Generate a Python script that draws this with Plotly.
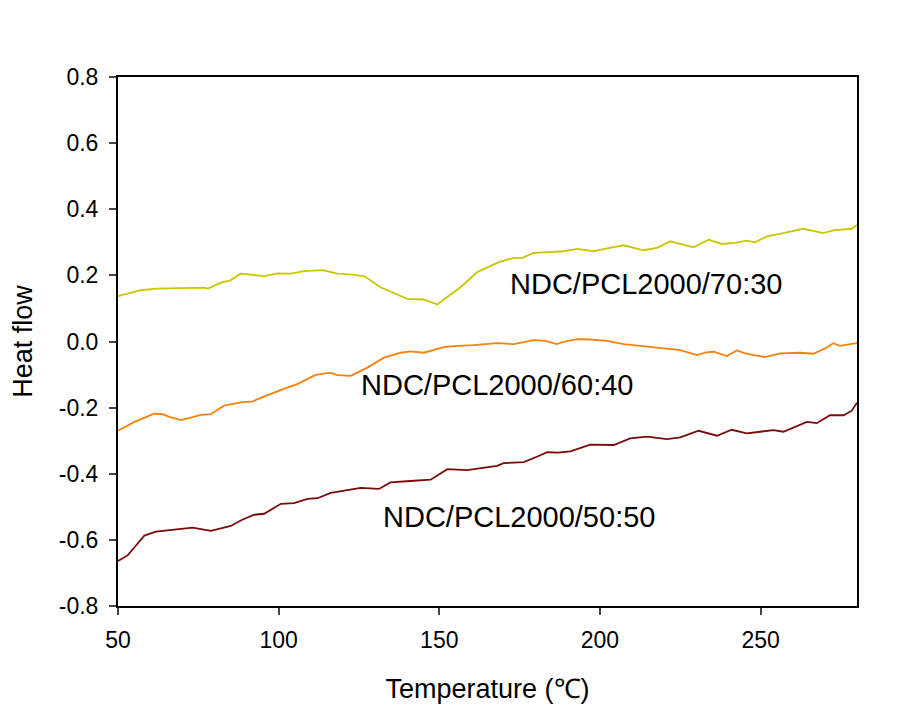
import plotly.graph_objects as go

# Series 70:30
x_7030 = [50, 53, 57.1, 62, 70, 76.8, 78, 82, 85, 88.2, 95.5, 99.6, 103.8, 107.9, 113.6, 118.3, 122, 126.6,
          131.7, 136, 140, 145.2, 149.4, 151.4, 156.6, 161.8, 165, 168.5, 173.2, 175.8, 179.4, 184, 188.7,
          192.9, 198, 203, 207.4, 213.6, 217.7, 221.9, 225.5, 229.1, 233.8, 237.9, 242, 245.7, 248.3,
          251.9, 257.1, 263.3, 266, 269.5, 272.6, 278.3, 280]
y_7030 = [0.137, 0.145, 0.155, 0.160, 0.162, 0.163, 0.160, 0.178, 0.185, 0.205, 0.198, 0.206, 0.205, 0.213,
          0.216, 0.205, 0.203, 0.198, 0.164, 0.145, 0.129, 0.127, 0.112, 0.127, 0.164, 0.210, 0.225, 0.240,
          0.253, 0.253, 0.268, 0.270, 0.273, 0.280, 0.273, 0.283, 0.291, 0.276, 0.283, 0.303, 0.293, 0.285,
          0.308, 0.295, 0.298, 0.305, 0.300, 0.318, 0.328, 0.341, 0.335, 0.328, 0.336, 0.341, 0.352]

# Series 60:40
x_6040 = [50, 55.1, 61.3, 63.9, 66, 69.6, 72, 75.8, 78.9, 83, 88.2, 91.9, 95, 98.6, 102, 105.8, 108.5,
          111.5, 116.2, 118.3, 122.4, 127.6, 132.8, 138, 141, 145.2, 151.4, 154.5, 160.7, 164, 168,
          173.2, 179.4, 183, 186.6, 189, 192.9, 197, 202.2, 207.4, 213.6, 219, 225, 230.2, 233, 235.4,
          239.5, 242.6, 245, 247.8, 251.4, 256.1, 262.3, 266.4, 270.6, 272.6, 274.7, 279.4, 280]
y_6040 = [-0.270, -0.243, -0.218, -0.220, -0.228, -0.238, -0.232, -0.222, -0.220, -0.194, -0.184, -0.181,
          -0.168, -0.154, -0.142, -0.129, -0.115, -0.101, -0.094, -0.102, -0.104, -0.079, -0.049, -0.034,
          -0.030, -0.034, -0.017, -0.014, -0.011, -0.008, -0.005, -0.008, 0.004, 0.002, -0.008, 0.000,
          0.007, 0.006, 0.002, -0.008, -0.014, -0.018, -0.026, -0.041, -0.033, -0.031, -0.044, -0.027,
          -0.035, -0.041, -0.047, -0.036, -0.034, -0.037, -0.018, -0.005, -0.013, -0.006, -0.005]

# Series 50:50
x_5050 = [50, 53, 55.6, 58.2, 61.8, 67.5, 73.2, 78.9, 85.1, 88.5, 92.4, 95.5, 100.7, 104.8, 109, 112.1,
          116.2, 120, 125.5, 131.2, 134.8, 141, 147.3, 152.5, 158.7, 163, 168, 170, 176.3, 180, 183.6,
          187, 190.8, 197, 204.3, 209.4, 214.6, 220.9, 225, 230.7, 236.4, 241, 245.7, 249.8, 254, 257.1,
          260.2, 264.4, 267.5, 271.6, 275.8, 278.3, 280]
y_5050 = [-0.664, -0.647, -0.617, -0.587, -0.575, -0.570, -0.563, -0.573, -0.558, -0.540, -0.524, -0.521,
          -0.491, -0.489, -0.476, -0.474, -0.458, -0.452, -0.443, -0.446, -0.426, -0.422, -0.418, -0.386,
          -0.389, -0.383, -0.376, -0.368, -0.365, -0.350, -0.335, -0.336, -0.332, -0.312, -0.313, -0.293,
          -0.288, -0.295, -0.290, -0.270, -0.285, -0.267, -0.278, -0.273, -0.268, -0.273, -0.260, -0.243,
          -0.247, -0.223, -0.223, -0.210, -0.185]

labels = ["NDC/PCL2000/70:30", "NDC/PCL2000/60:40", "NDC/PCL2000/50:50"]
label_x = [214.4, 168.1, 174.9]
label_y = [0.173, -0.132, -0.530]
colors = ["#C8C800", "#F5820F", "#7A0A0A"]

y_tickvals = [-0.8, -0.6, -0.4, -0.2, 0.0, 0.2, 0.4, 0.6, 0.8]
y_ticktext = ["-0.8", "-0.6", "-0.4", "-0.2", "0.0", "0.2", "0.4", "0.6", "0.8"]
x_tickvals = [50, 100, 150, 200, 250]
x_ticktext = ["50", "100", "150", "200", "250"]

FONT = "Arial, Liberation Sans, sans-serif"

fig = go.Figure()
for xs, ys, c, name in zip([x_7030, x_6040, x_5050], [y_7030, y_6040, y_5050], colors, labels):
    fig.add_trace(go.Scatter(x=xs, y=ys, mode="lines", line=dict(color=c, width=1.8), name=name))

for t, lx, ly in zip(labels, label_x, label_y):
    fig.add_annotation(x=lx, y=ly, text=t, showarrow=False,
                       font=dict(family=FONT, size=29, color="black"))

fig.update_layout(
    width=916, height=703,
    margin=dict(l=109, r=67, t=69, b=103),
    paper_bgcolor="white", plot_bgcolor="white",
    showlegend=False,
    font=dict(family=FONT, color="black"),
)
fig.update_xaxes(range=[50, 280], tickvals=x_tickvals, ticktext=x_ticktext, ticks="outside", ticklen=7,
                 tickwidth=2, showline=True, linecolor="black", linewidth=2, mirror=True, showgrid=False,
                 zeroline=False, tickfont=dict(size=23, family=FONT), ticklabelstandoff=5,
                 title=dict(text="Temperature (℃)", font=dict(size=27, family=FONT), standoff=28))
fig.update_yaxes(range=[-0.8, 0.8], tickvals=y_tickvals, ticktext=y_ticktext, ticks="outside", ticklen=7,
                 tickwidth=2, showline=True, linecolor="black", linewidth=2, mirror=True, showgrid=False,
                 zeroline=False, tickfont=dict(size=23, family=FONT), ticklabelstandoff=6,
                 title=dict(text="Heat flow", font=dict(size=27, family=FONT), standoff=20))

fig.write_html("out.html")
